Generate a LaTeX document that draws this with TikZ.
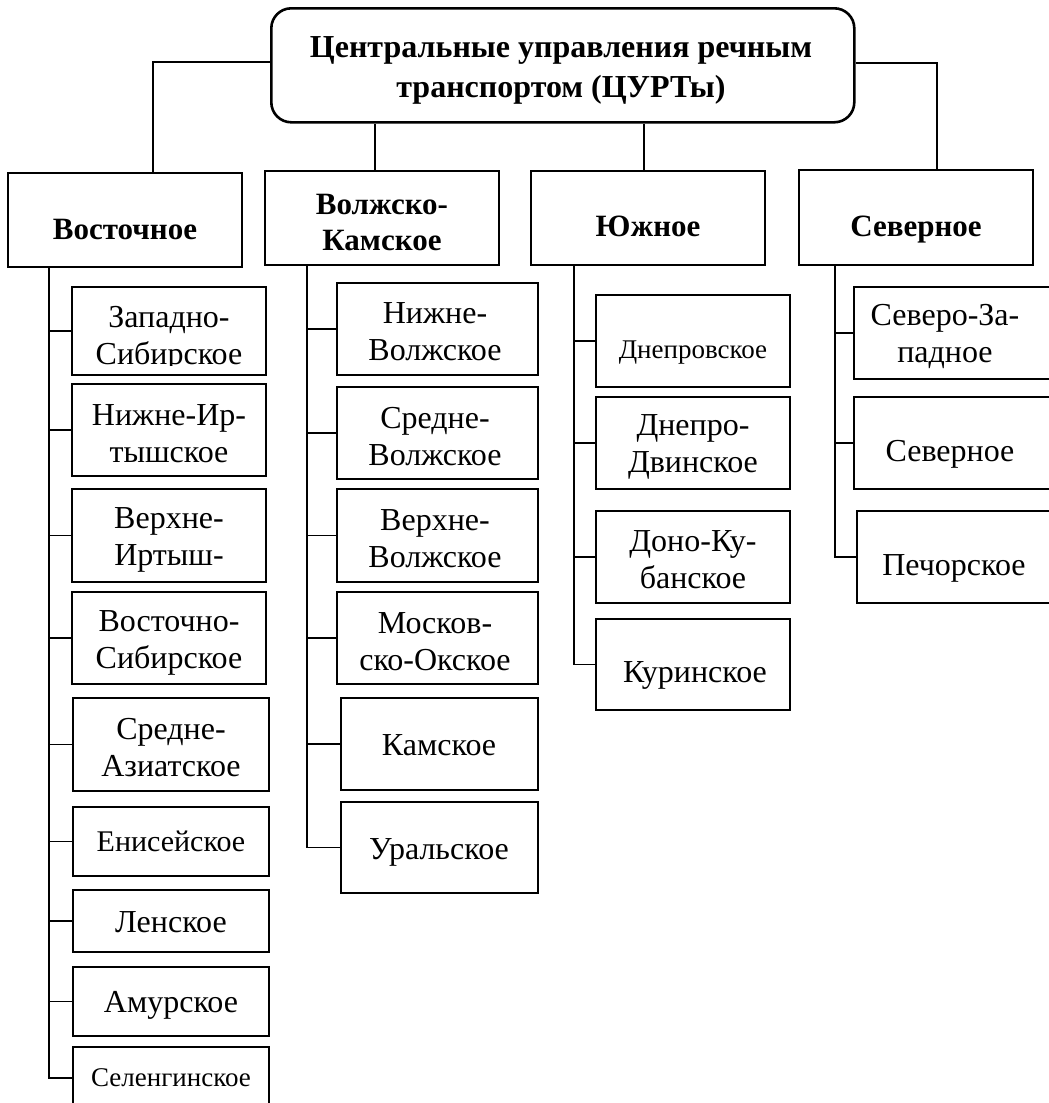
\documentclass[tikz,border=0pt]{standalone}
\usepackage{fontspec}
\setmainfont{Liberation Serif}
\newcommand\ubx[5]{\node[box, minimum width={#4pt-#2pt}, minimum height={#5pt-#3pt}] (#1) at (#2,#3) {};}
\begin{document}
\begin{tikzpicture}[x=1pt,y=-1pt,
  box/.style={draw, line width=2.6pt, anchor=north west, inner sep=0pt, outer sep=0pt},
  link/.style={line width=1.8pt},
  txt/.style={align=center, inner sep=0pt, font=\fontsize{32}{37}\selectfont},
  one/.style={inner sep=0pt, text height=21pt, text depth=0pt, font=\fontsize{32}{37}\selectfont},
  small/.style={inner sep=0pt, text height=18pt, text depth=0pt, font=\fontsize{27}{32}\selectfont},
  btxt/.style={align=center, inner sep=0pt, font=\fontsize{31}{36}\selectfont\bfseries},
  bone/.style={inner sep=0pt, text height=20.5pt, text depth=0pt, font=\fontsize{31}{36}\selectfont\bfseries},
]
\useasboundingbox (0,0) rectangle (1049,1103);
\clip (0,0) rectangle (1049,1103);

% root
\node[draw, line width=2.6pt, rounded corners=20pt, anchor=north west, inner sep=0pt,
  minimum width=583pt, minimum height=114pt] (root) at (270,7) {};
\node[btxt, font=\fontsize{32}{40}\selectfont\bfseries] (roott) at (561,70) {Центральные управления речным\\транспортом (ЦУРТы)};

% level 2
\ubx{vost}{8}{173}{242}{267}
\ubx{vk}{265}{171}{499}{265}
\ubx{yu}{531}{171}{765}{265}
\ubx{sev}{799}{170}{1033}{265}
\node[bone] (vostt) at (125,229.5) {Восточное};
\node[btxt] (vkt) at (382,222) {Волжско-\\Камское};
\node[bone] (yut) at (648,226) {Южное};
\node[bone] (sevt) at (916,226) {Северное};

% Восточное children
\ubx{v1}{72}{287}{266}{375}
\ubx{v2}{72}{384}{266}{476}
\ubx{v3}{72}{489}{266}{582}
\ubx{v4}{72}{592}{266}{684}
\ubx{v5}{73}{698}{269}{791}
\ubx{v6}{73}{807}{269}{876}
\ubx{v7}{73}{890}{269}{952}
\ubx{v8}{73}{967}{269}{1036}
\ubx{v9}{73}{1047}{269}{1109}
\begin{scope}
\clip (72,287) rectangle (266,365);
\node[txt] (v1t) at (169,339) {Западно-\\Сибирское};
\end{scope}
\node[txt] (v2t) at (169,434) {Нижне-Ир-\\тышское};
\node[txt] (v3t) at (169,540) {Верхне-\\Иртыш-};
\node[txt] (v4t) at (169,643) {Восточно-\\Сибирское};
\node[txt] (v5t) at (171,748) {Средне-\\Азиатское};
\node[one, text height=19.5pt, font=\fontsize{30}{34}\selectfont] (v6t) at (171,842) {Енисейское};
\node[one] (v7t) at (171,922) {Ленское};
\node[one] (v8t) at (171,1002) {Амурское};
\node[small] (v9t) at (171,1077) {Селенгинское};

% Волжско-Камское children
\ubx{w1}{337}{283}{538}{375}
\ubx{w2}{337}{387}{538}{479}
\ubx{w3}{337}{489}{538}{582}
\ubx{w4}{337}{592}{538}{684}
\ubx{w5}{341}{698}{538}{790}
\ubx{w6}{341}{802}{538}{893}
\node[txt] (w1t) at (435,332) {Нижне-\\Волжское};
\node[txt] (w2t) at (435,437) {Средне-\\Волжское};
\node[txt] (w3t) at (435,539) {Верхне-\\Волжское};
\node[txt] (w4t) at (435,642) {Москов-\\ско-Окское};
\node[one] (w5t) at (439,745) {Камское};
\node[one] (w6t) at (439,849) {Уральское};

% Южное children
\ubx{y1}{596}{295}{790}{387}
\ubx{y2}{596}{397}{790}{489}
\ubx{y3}{596}{511}{790}{603}
\ubx{y4}{596}{619}{790}{710}
\node[small] (y1t) at (693,349) {Днепровское};
\node[txt] (y2t) at (693,447) {Днепро-\\Двинское};
\node[txt] (y3t) at (693,560) {Доно-Ку-\\банское};
\node[one] (y4t) at (695,672) {Куринское};

% Северное children
\ubx{s1}{854}{287}{1060}{379}
\ubx{s2}{854}{397}{1060}{489}
\ubx{s3}{857}{511}{1060}{603}
\node[txt] (s1t) at (945,336) {Северо-За-\\падное};
\node[one] (s2t) at (950,451) {Северное};
\node[one] (s3t) at (954,565) {Печорское};

% root connectors
\draw[link] ([yshift=3]root.west) -| ([xshift=28]vost.north);
\draw[link] ([yshift=2]root.east) -| ([xshift=21]sev.north);
\draw[link] ([xshift=-7]vk.north) -- ([xshift=-7]vk.north |- root.south);
\draw[link] ([xshift=-4]yu.north) -- ([xshift=-4]yu.north |- root.south);

% trunks
\coordinate (tv) at ([xshift=41]vost.south west);
\coordinate (tw) at ([xshift=42]vk.south west);
\coordinate (ty) at ([xshift=43]yu.south west);
\coordinate (ts) at ([xshift=36]sev.south west);
\draw[link] (tv) |- (v9.west);
\foreach \c in {v1,v2,v3,v4,v5,v6,v7,v8} \draw[link] (tv |- \c.west) -- (\c.west);
\draw[link] (tw) |- (w6.west);
\foreach \c in {w1,w2,w3,w4,w5} \draw[link] (tw |- \c.west) -- (\c.west);
\draw[link] (ty) |- (y4.west);
\foreach \c in {y1,y2,y3} \draw[link] (ty |- \c.west) -- (\c.west);
\draw[link] (ts) |- (s3.west);
\foreach \c in {s1,s2} \draw[link] (ts |- \c.west) -- (\c.west);
\end{tikzpicture}
\end{document}
